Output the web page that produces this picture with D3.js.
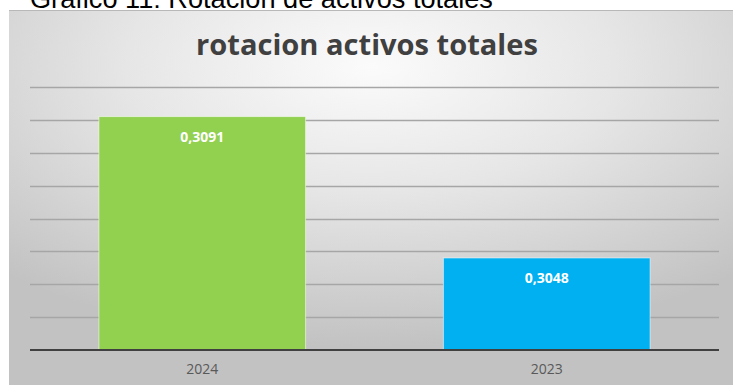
<!DOCTYPE html>
<html>
<head>
<meta charset="utf-8">
<script src="https://cdn.jsdelivr.net/npm/d3@7"></script>
<style>
  html, body { margin: 0; padding: 0; background: #ffffff; }
  svg { display: block; }
</style>
</head>
<body>
<svg id="chart" width="733" height="385"></svg>
<script>
const categories = ["2024", "2023"];
const values = [0.3091, 0.3048];
const valueLabels = ["0,3091", "0,3048"];
const barColors = ["#92D050", "#00B0F0"];
const yDomain = [0.302, 0.310];
const yTicks = [0.303, 0.304, 0.305, 0.306, 0.307, 0.308, 0.309, 0.310];
const caption = "Gráfico 11: Rotación de activos totales";
const title = "rotacion activos totales";

const svg = d3.select("#chart");
const W = 733, H = 385;

const defs = svg.append("defs");
const grad = defs.append("radialGradient")
  .attr("id", "bg").attr("cx", "50%").attr("cy", "15%").attr("r", "75%")
  .attr("fx", "50%").attr("fy", "15%");
grad.append("stop").attr("offset", "0%").attr("stop-color", "#fbfbfb");
grad.append("stop").attr("offset", "45%").attr("stop-color", "#e6e6e6");
grad.append("stop").attr("offset", "100%").attr("stop-color", "#c2c2c2");

// chart box
const box = {x: 9, y: 10, w: W - 9, h: H - 10};
svg.append("rect").attr("x", box.x).attr("y", box.y).attr("width", box.w).attr("height", box.h)
  .attr("fill", "url(#bg)");
svg.append("line").attr("x1", box.x).attr("x2", W).attr("y1", box.y + 0.5).attr("y2", box.y + 0.5)
  .attr("stroke", "#b8b8b8").attr("stroke-width", 1);

// caption (cut off at top, as in the reference)
const cap = svg.append("text").attr("x", 30).attr("y", 8)
  .attr("font-family", "Liberation Sans, Arial, sans-serif").attr("font-size", 24)
  .attr("fill", "#000").text(caption);
let cl = cap.node().getComputedTextLength();
cap.attr("font-size", 24 * 463 / cl);

// title
const tt = svg.append("text").attr("x", 367).attr("y", 55).attr("text-anchor", "middle")
  .attr("font-family", "Open Sans, sans-serif").attr("font-weight", "bold").attr("font-size", 26)
  .attr("fill", "#404040").text(title);
let tl = tt.node().getComputedTextLength();
tt.attr("font-size", 26 * 342 / tl);

const plot = {l: 30, r: 719, t: 87, b: 350};
const x = d3.scaleBand().domain(categories).range([plot.l, plot.r]).paddingInner(0.4).paddingOuter(0.2);
const y = d3.scaleLinear().domain(yDomain).range([plot.b, plot.t]);

// gridlines
svg.append("g").selectAll("line").data(yTicks).join("line")
  .attr("x1", plot.l).attr("x2", plot.r)
  .attr("y1", d => Math.round(y(d)) + 0.5).attr("y2", d => Math.round(y(d)) + 0.5)
  .attr("stroke", "#a6a6a6").attr("stroke-width", 1.3);

// bars
svg.append("g").selectAll("rect").data(categories).join("rect")
  .attr("x", d => x(d)).attr("width", x.bandwidth())
  .attr("y", (d, i) => y(values[i])).attr("height", (d, i) => y(yDomain[0]) - y(values[i]))
  .attr("fill", (d, i) => barColors[i])
  .attr("stroke", "rgba(255,255,255,0.55)").attr("stroke-width", 1);

// labels
svg.append("g").selectAll("text").data(categories).join("text")
  .attr("x", d => x(d) + x.bandwidth() / 2)
  .attr("y", (d, i) => y(values[i]) + 25)
  .attr("text-anchor", "middle")
  .attr("font-family", "Open Sans, sans-serif").attr("font-weight", "bold").attr("font-size", 14)
  .attr("fill", "#ffffff")
  .text((d, i) => valueLabels[i]);

// x axis
const xAxis = d3.axisBottom(x).tickSize(0).tickPadding(14);
const gx = svg.append("g").attr("transform", `translate(0,${plot.b})`).call(xAxis);
gx.select(".domain").attr("stroke", "#404040").attr("stroke-width", 2.2)
  .attr("d", `M${plot.l},0H${plot.r}`);
gx.selectAll("text").attr("font-family", "Open Sans, sans-serif").attr("font-size", 14)
  .attr("fill", "#595959");
</script>
</body>
</html>
